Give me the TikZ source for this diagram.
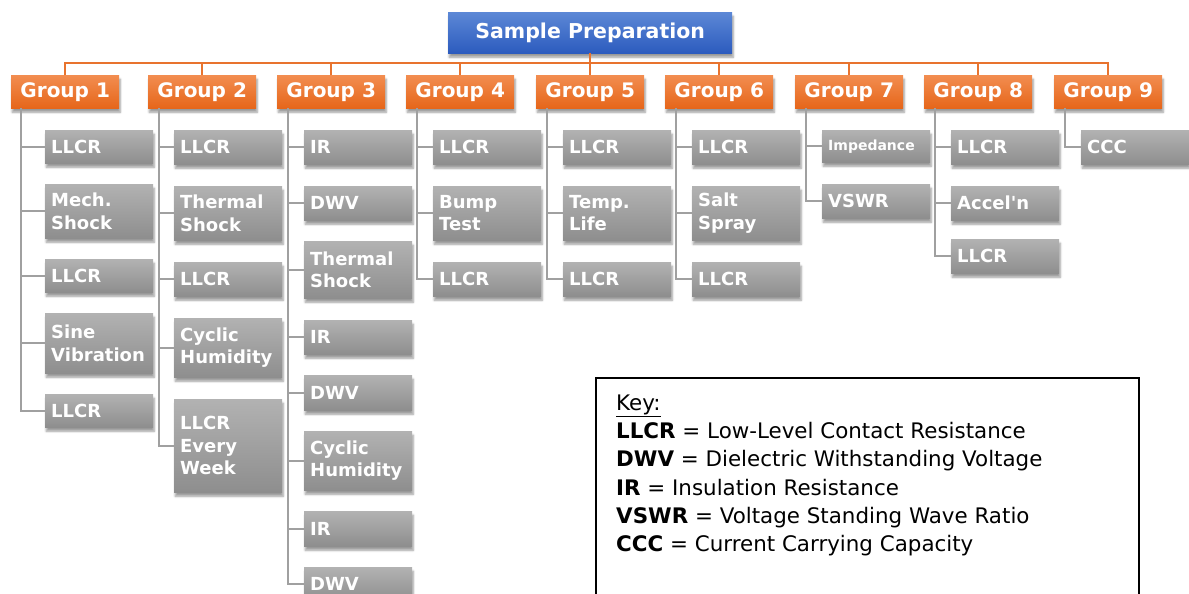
\documentclass[tikz,border=0pt]{standalone}
\usepackage{fontspec}
\setmainfont{DejaVu Sans}
\usetikzlibrary{shadows.blur}
\definecolor{grtop}{HTML}{B2B2B2}
\definecolor{grbot}{HTML}{8E8E8E}
\definecolor{ortop}{HTML}{F28D50}
\definecolor{orbot}{HTML}{E6661A}
\definecolor{bltop}{HTML}{5C88D6}
\definecolor{blbot}{HTML}{2C5BBE}
\definecolor{orline}{HTML}{E8732E}
\definecolor{grline}{HTML}{A0A0A0}
\tikzset{
  shad/.style={blur shadow={shadow xshift=1pt, shadow yshift=-4pt, shadow blur steps=6, shadow opacity=40}},
  topbox/.style={shad, top color=bltop, bottom color=blbot, text=white, font=\bfseries\fontsize{20.5}{24}\selectfont,
    minimum width=284pt, minimum height=41pt, inner sep=0pt, anchor=north west},
  grpbox/.style={shad, top color=ortop, bottom color=orbot, text=white, font=\bfseries\fontsize{20}{24}\selectfont,
    minimum width=108pt, minimum height=33pt, inner sep=0pt, anchor=north west},
  chbox/.style={shad, top color=grtop, bottom color=grbot, text=white, font=\bfseries\fontsize{18}{22.5}\selectfont,
    minimum width=108pt, text width=96pt, inner xsep=6pt, inner ysep=0pt, align=left, anchor=north west},
  oconn/.style={draw=orline, line width=2.2pt},
  conn/.style={draw=grline, line width=2.2pt},
  keyline/.style={anchor=base west, inner sep=0pt, font=\fontsize{21.4}{24}\selectfont},
}
\begin{document}
\begin{tikzpicture}[x=1pt,y=-1pt]
\useasboundingbox (0,0) rectangle (1189,594);
% top
\node[topbox] (top) at (448,12) {Sample Preparation};
% groups
\foreach \i/\x in {1/11,2/148,3/277,4/406,5/536,6/665,7/795,8/924,9/1054}{
  \node[grpbox] (g\i) at (\x,75) {Group \i};
}
\foreach \i in {1,...,9}{
  \draw[oconn] (g\i.north) -- ++(0,-12) -| (top.south);
}
% children: group 1
\node[chbox, minimum height=33pt] (c11) at (45,130) {LLCR};
\node[chbox, minimum height=54pt] (c12) at (45,184) {Mech.\\Shock};
\node[chbox, minimum height=33pt] (c13) at (45,259) {LLCR};
\node[chbox, minimum height=60pt] (c14) at (45,313) {Sine\\Vibration};
\node[chbox, minimum height=33pt] (c15) at (45,394) {LLCR};
% group 2
\node[chbox, minimum height=34pt] (c21) at (174,130) {LLCR};
\node[chbox, minimum height=54pt] (c22) at (174,186) {Thermal\\Shock};
\node[chbox, minimum height=34pt] (c23) at (174,262) {LLCR};
\node[chbox, minimum height=59pt] (c24) at (174,318) {Cyclic\\Humidity};
\node[chbox, minimum height=93pt] (c25) at (174,399) {LLCR\\Every\\Week};
% group 3
\node[chbox, minimum height=34pt] (c31) at (304,130) {IR};
\node[chbox, minimum height=34pt] (c32) at (304,186) {DWV};
\node[chbox, minimum height=57pt] (c33) at (304,241) {Thermal\\Shock};
\node[chbox, minimum height=34pt] (c34) at (304,320) {IR};
\node[chbox, minimum height=35pt] (c35) at (304,375) {DWV};
\node[chbox, minimum height=59pt] (c36) at (304,431) {Cyclic\\Humidity};
\node[chbox, minimum height=35pt] (c37) at (304,511) {IR};
\node[chbox, minimum height=34pt] (c38) at (304,567) {DWV};
% group 4
\node[chbox, minimum height=34pt] (c41) at (433,130) {LLCR};
\node[chbox, minimum height=54pt] (c42) at (433,186) {Bump\\Test};
\node[chbox, minimum height=34pt] (c43) at (433,262) {LLCR};
% group 5
\node[chbox, minimum height=34pt] (c51) at (563,130) {LLCR};
\node[chbox, minimum height=54pt] (c52) at (563,186) {Temp.\\Life};
\node[chbox, minimum height=34pt] (c53) at (563,262) {LLCR};
% group 6
\node[chbox, minimum height=34pt] (c61) at (692,130) {LLCR};
\node[chbox, minimum height=54pt] (c62) at (692,186) {Salt\\Spray};
\node[chbox, minimum height=34pt] (c63) at (692,262) {LLCR};
% group 7
\node[chbox, minimum height=32pt, font=\bfseries\fontsize{14}{17}\selectfont] (c71) at (822,130) {Impedance};
\node[chbox, minimum height=34pt] (c72) at (822,184) {VSWR};
% group 8
\node[chbox, minimum height=34pt] (c81) at (951,130) {LLCR};
\node[chbox, minimum height=34pt] (c82) at (951,186) {Accel\textquotesingle n};
\node[chbox, minimum height=34pt] (c83) at (951,239) {LLCR};
% group 9
\node[chbox, minimum height=34pt] (c91) at (1081,130) {CCC};
% grey connectors
\coordinate (v1) at (21,108);
\coordinate (v2) at (159,108);
\coordinate (v3) at (288,108);
\coordinate (v4) at (417,108);
\coordinate (v5) at (547,108);
\coordinate (v6) at (676,108);
\coordinate (v7) at (806,108);
\coordinate (v8) at (935,108);
\coordinate (v9) at (1065,108);
\foreach \g/\n in {1/5,2/5,3/8,4/3,5/3,6/3,7/2,8/3,9/1}{
  \foreach \k in {1,...,\n}{
    \draw[conn] (v\g) |- (c\g\k.west);
  }
}
% key
\node[draw=black, line width=1.5pt, minimum width=543pt, minimum height=230pt, anchor=north west, inner sep=0pt] (key) at (595,377) {};
\node[keyline] (k0) at (616,410) {\underline{Key:}};
\node[keyline] (k1) at (616,438.5) {\textbf{LLCR} = Low-Level Contact Resistance};
\node[keyline] (k2) at (616,466.8) {\textbf{DWV} = Dielectric Withstanding Voltage};
\node[keyline] (k3) at (616,495.1) {\textbf{IR} = Insulation Resistance};
\node[keyline] (k4) at (616,523.4) {\textbf{VSWR} = Voltage Standing Wave Ratio};
\node[keyline] (k5) at (616,551.7) {\textbf{CCC} = Current Carrying Capacity};
\end{tikzpicture}
\end{document}
